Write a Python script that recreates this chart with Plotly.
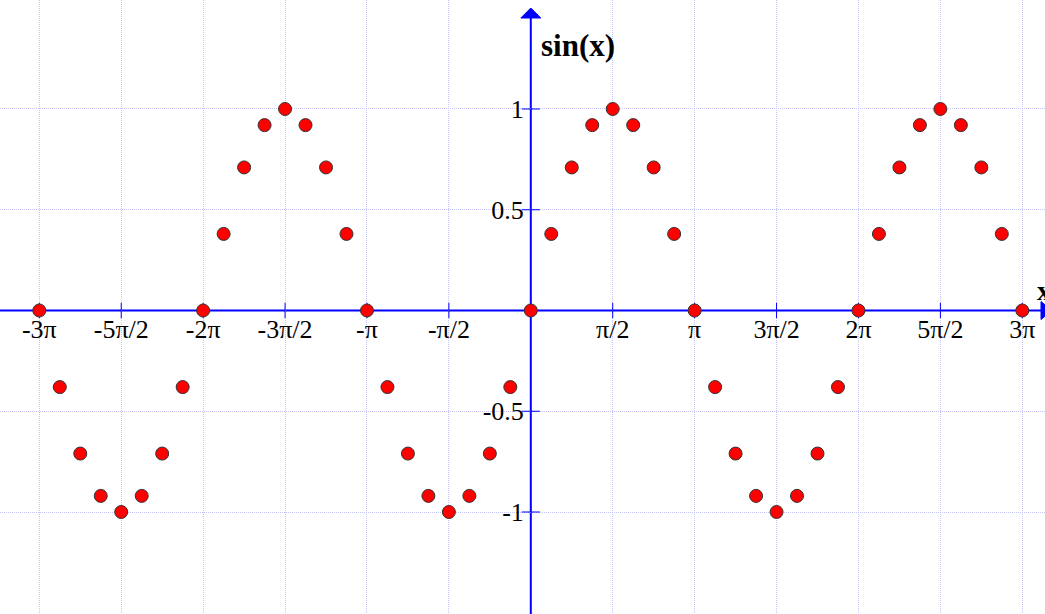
import plotly.graph_objects as go

# x positions in units of pi
x_pi = [-3.0, -2.875, -2.75, -2.625, -2.5, -2.375, -2.25, -2.125,
        -2.0, -1.875, -1.75, -1.625, -1.5, -1.375, -1.25, -1.125,
        -1.0, -0.875, -0.75, -0.625, -0.5, -0.375, -0.25, -0.125,
        0.0, 0.125, 0.25, 0.375, 0.5, 0.625, 0.75, 0.875,
        1.0, 1.125, 1.25, 1.375, 1.5, 1.625, 1.75, 1.875,
        2.0, 2.125, 2.25, 2.375, 2.5, 2.625, 2.75, 2.875, 3.0]
sin_vals = [0, -0.38, -0.71, -0.92, -1, -0.92, -0.71, -0.38,
            0, 0.38, 0.71, 0.92, 1, 0.92, 0.71, 0.38,
            0, -0.38, -0.71, -0.92, -1, -0.92, -0.71, -0.38,
            0, 0.38, 0.71, 0.92, 1, 0.92, 0.71, 0.38,
            0, -0.38, -0.71, -0.92, -1, -0.92, -0.71, -0.38,
            0, 0.38, 0.71, 0.92, 1, 0.92, 0.71, 0.38,
            0]

x_tickvals = [-3, -2.5, -2, -1.5, -1, -0.5, 0.5, 1, 1.5, 2, 2.5, 3]
x_ticktext = ["-3π", "-5π/2", "-2π", "-3π/2", "-π", "-π/2",
              "π/2", "π", "3π/2", "2π", "5π/2", "3π"]
y_tickvals = [-1, -0.5, 0.5, 1]
y_ticktext = ["-1", "-0.5", "0.5", "1"]

W, H = 1045, 614
x_range = [-3.2399, 3.1386]
y_range = [-1.5062, 1.5409]

AXIS = "#0000ff"
GRID = "#c4c4f8"
FONT = "Liberation Serif"

fig = go.Figure()

# crossing tick marks on axes
fig.add_trace(go.Scatter(
    x=x_tickvals, y=[0] * len(x_tickvals), mode="markers",
    marker=dict(symbol="line-ns", size=11, line=dict(color=AXIS, width=1)),
    hoverinfo="skip", showlegend=False, cliponaxis=False))
fig.add_trace(go.Scatter(
    x=[0] * len(y_tickvals), y=y_tickvals, mode="markers",
    marker=dict(symbol="line-ew", size=13, line=dict(color=AXIS, width=1)),
    hoverinfo="skip", showlegend=False, cliponaxis=False))

# sine points
fig.add_trace(go.Scatter(
    x=x_pi, y=sin_vals, mode="markers",
    marker=dict(size=13, color="#ff0000", line=dict(color="#333333", width=1)),
    showlegend=False, cliponaxis=False))

xpos = (0 - y_range[0]) / (y_range[1] - y_range[0])
ypos = (0 - x_range[0]) / (x_range[1] - x_range[0])

fig.update_layout(
    width=W, height=H,
    margin=dict(l=0, r=0, t=0, b=0),
    paper_bgcolor="white", plot_bgcolor="white",
    font=dict(family=FONT, size=26, color="black"),
    xaxis=dict(range=x_range, anchor="free", position=xpos,
               tickvals=x_tickvals, ticktext=x_ticktext,
               showgrid=True, gridcolor=GRID, gridwidth=1, griddash="1px,1px",
               zeroline=False, showline=False, ticks="",
               tickfont=dict(family=FONT, size=26, color="black"),
               ticklabelstandoff=1),
    yaxis=dict(range=y_range, anchor="free", position=ypos,
               tickvals=y_tickvals, ticktext=y_ticktext,
               showgrid=True, gridcolor=GRID, gridwidth=1, griddash="1px,1px",
               zeroline=False, showline=False, ticks="",
               tickfont=dict(family=FONT, size=26, color="black"),
               ticklabelstandoff=7),
)

# axis lines
fig.add_shape(type="line", xref="paper", yref="y", x0=0, x1=1, y0=0, y1=0,
              line=dict(color=AXIS, width=2), layer="between")
fig.add_shape(type="line", xref="x", yref="paper", x0=0, x1=0, y0=0, y1=1 - 12 / H,
              line=dict(color=AXIS, width=2), layer="between")
# arrowheads
fig.add_shape(type="path", xref="x", yref="paper", xsizemode="pixel", ysizemode="pixel",
              xanchor=0, yanchor=1 - 18 / H, path="M-10,0 L10,0 L0,10 Z",
              fillcolor=AXIS, line=dict(color=AXIS, width=1), layer="between")
fig.add_shape(type="path", xref="paper", yref="y", xsizemode="pixel", ysizemode="pixel",
              xanchor=1041 / W, yanchor=0, path="M0,-9 L0,9 L11,0 Z",
              fillcolor=AXIS, line=dict(color=AXIS, width=1), layer="between")

# axis titles
fig.add_annotation(text="<b>sin(x)</b>", xref="paper", yref="paper",
                   x=578 / W, y=1 - 26 / H, showarrow=False,
                   font=dict(family=FONT, size=31, color="black"))
fig.add_annotation(text="<b>x</b>", xref="paper", yref="paper",
                   x=1035 / W, y=1 - 290 / H, xanchor="left", showarrow=False,
                   font=dict(family=FONT, size=28, color="black"))

fig.write_html("out.html", config={"displayModeBar": False},
               post_script="document.body.style.margin='0';document.body.style.overflow='hidden';")
